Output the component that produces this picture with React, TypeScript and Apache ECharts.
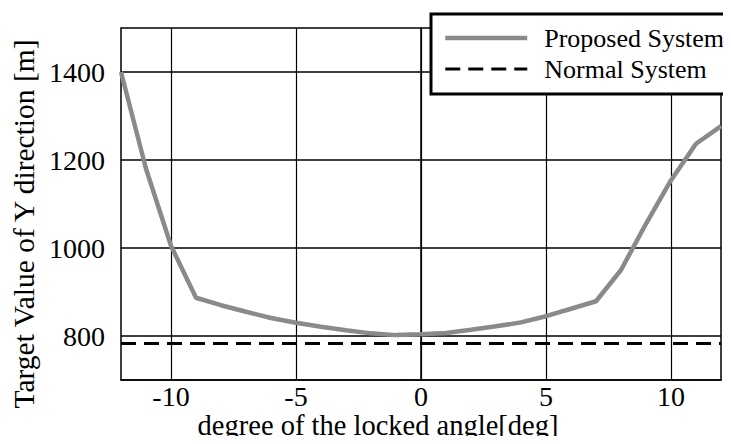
import React, { useEffect, useRef } from "react";
import * as echarts from "echarts";

const angles = [-12, -11, -10, -9, -8, -7, -6, -5, -4, -3, -2, -1, 0, 1, 2, 3, 4, 5, 6, 7, 8, 9, 10, 11, 12];
const proposed = [1400, 1180, 1005, 887, 870, 855, 841, 830, 821, 813, 806, 802, 804, 807, 814, 822, 831, 845, 862, 879, 950, 1055, 1154, 1237, 1277];
const normalAngles = [-12, 12];
const normal = [783, 783];
const xTicks = [-10, -5, 0, 5, 10];
const yTicks = [800, 1000, 1200, 1400];

const FONT = "Liberation Serif";
const T = "rgba(0,0,0,0)";

export default function App() {
  const ref = useRef<HTMLDivElement>(null);
  useEffect(() => {
    if (!ref.current) return;
    const chart = echarts.init(ref.current, undefined, { renderer: "svg" });
    chart.setOption({
      animation: false,
      backgroundColor: "#fff",
      textStyle: { fontFamily: FONT, color: "#000" },
      grid: {
        left: 121,
        right: 10,
        top: 28,
        bottom: 64,
        show: true,
        borderColor: "#000",
        borderWidth: 1.5,
        backgroundColor: "transparent",
      },
      xAxis: {
        type: "value",
        min: -12,
        max: 12,
        interval: 1,
        axisLine: { show: true, onZero: false, lineStyle: { color: "#000", width: 1.5 } },
        axisTick: { show: false },
        axisLabel: {
          show: true,
          margin: 4,
          color: "#000",
          fontFamily: FONT,
          fontSize: 28,
          lineHeight: 24,
          formatter: (v: number) => (xTicks.includes(Math.round(v)) ? String(Math.round(v)) : ""),
        },
        splitLine: {
          show: true,
          lineStyle: { color: [T, T, "#000", T, T], width: 1.2 },
        },
      },
      yAxis: {
        type: "value",
        min: 700,
        max: 1500,
        interval: 100,
        axisLine: { show: true, lineStyle: { color: "#000", width: 1.5 } },
        axisTick: { show: false },
        axisLabel: {
          show: true,
          margin: 16,
          color: "#000",
          fontFamily: FONT,
          fontSize: 28,
          lineHeight: 24,
          formatter: (v: number) => (yTicks.includes(Math.round(v)) ? String(Math.round(v)) : ""),
        },
        splitLine: {
          show: true,
          lineStyle: { color: [T, "#000"], width: 1.6 },
        },
      },
      legend: {
        orient: "vertical",
        left: 443,
        top: 25,
        padding: 0,
        itemGap: 5,
        itemWidth: 82,
        itemHeight: 14,
        z: 60,
        itemStyle: { opacity: 0 },
        textStyle: { fontFamily: FONT, fontSize: 26, color: "#000", padding: [0, 0, 0, 12] },
        data: [
          { name: "Proposed System", lineStyle: { width: 4.5, color: "#8a8a8a" } },
          { name: "Normal System", lineStyle: { width: 3, color: "#000", type: [15, 8] } },
        ],
      },
      graphic: [
        {
          type: "rect",
          z: 50,
          shape: { x: 431, y: 14, width: 340, height: 80 },
          style: { fill: "#fff", lineWidth: 0 },
        },
        {
          type: "polyline",
          z: 51,
          shape: { points: [[780, 14], [431, 14], [431, 94], [780, 94]] },
          style: { fill: null, stroke: "#000", lineWidth: 3 },
        },
        {
          type: "text",
          x: 24,
          y: 224,
          rotation: Math.PI / 2,
          style: {
            text: "Target Value of Y direction [m]",
            fontFamily: FONT,
            fontSize: 29.5,
            fill: "#000",
            align: "center",
            verticalAlign: "middle",
          },
        },
        {
          type: "text",
          x: 378,
          y: 425.5,
          style: {
            text: "degree of the locked angle[deg]",
            fontFamily: FONT,
            fontSize: 28.5,
            fill: "#000",
            align: "center",
            verticalAlign: "middle",
          },
        },
      ],
      series: [
        {
          name: "Proposed System",
          type: "line",
          data: angles.map((a, i) => [a, proposed[i]]),
          showSymbol: false,
          symbol: "none",
          lineStyle: { color: "#8a8a8a", width: 4.5 },
          itemStyle: { color: "#8a8a8a" },
          z: 5,
        },
        {
          name: "Normal System",
          type: "line",
          data: normalAngles.map((a, i) => [a, normal[i]]),
          showSymbol: false,
          symbol: "none",
          lineStyle: { color: "#000", width: 3, type: [15, 8] },
          itemStyle: { color: "#000" },
          z: 4,
        },
      ],
    });
    return () => chart.dispose();
  }, []);
  return <div ref={ref} style={{ width: 731, height: 444, margin: -8 }} />;
}
